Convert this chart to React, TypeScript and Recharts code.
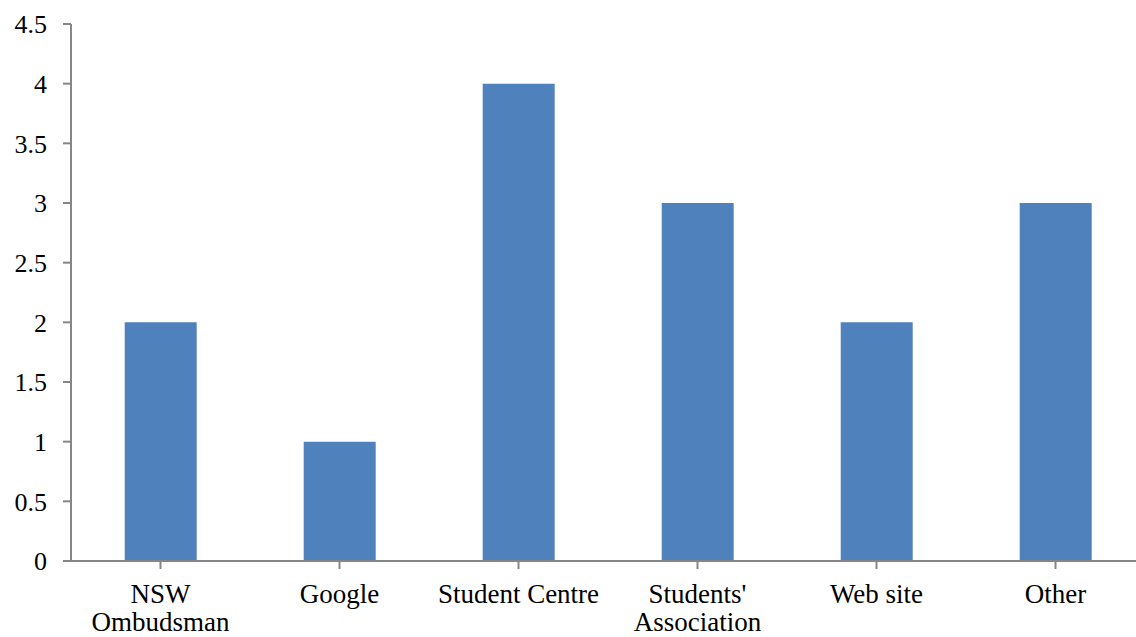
import React from "react";
import { BarChart, Bar, XAxis, YAxis } from "recharts";

const categories = ["NSW\nOmbudsman", "Google", "Student Centre", "Students'\nAssociation", "Web site", "Other"];
const values = [2, 1, 4, 3, 2, 3];
const yTicks = [0, 0.5, 1, 1.5, 2, 2.5, 3, 3.5, 4, 4.5];

const data = categories.map((c, i) => ({ name: c, value: values[i] }));

const FONT = "'Liberation Serif', serif";
const AXIS = "#868686";

const XTick = (props: any) => {
  const { x, y, payload } = props;
  const lines = String(payload.value).split("\n");
  return (
    <text x={x} y={y} textAnchor="middle" fontFamily={FONT} fontSize={27} fill="#000">
      {lines.map((l, i) => (
        <tspan key={i} x={x} dy={i === 0 ? 32 : 28}>
          {l}
        </tspan>
      ))}
    </text>
  );
};

export default function App() {
  return (
    <div style={{ position: "absolute", left: 0, top: 0, width: 1136, height: 637, overflow: "hidden", background: "#fff" }}>
      <BarChart
        width={1145}
        height={637}
        data={data}
        margin={{ top: 24, right: 0, bottom: 0, left: 0 }}
        barCategoryGap="30%"
      >
        <XAxis
          dataKey="name"
          height={76}
          interval={0}
          tick={<XTick />}
          axisLine={{ stroke: AXIS, strokeWidth: 2 }}
          tickLine={{ stroke: AXIS, strokeWidth: 2 }}
          tickSize={8}
        />
        <YAxis
          width={71}
          domain={[0, 4.5]}
          ticks={yTicks}
          interval={0}
          axisLine={{ stroke: AXIS, strokeWidth: 2 }}
          tickLine={{ stroke: AXIS, strokeWidth: 2 }}
          tickSize={8}
          tickMargin={16}
          tick={{ fontFamily: FONT, fontSize: 26, fill: "#000" }}
        />
        <Bar dataKey="value" fill="#4F81BD" isAnimationActive={false} />
      </BarChart>
    </div>
  );
}
